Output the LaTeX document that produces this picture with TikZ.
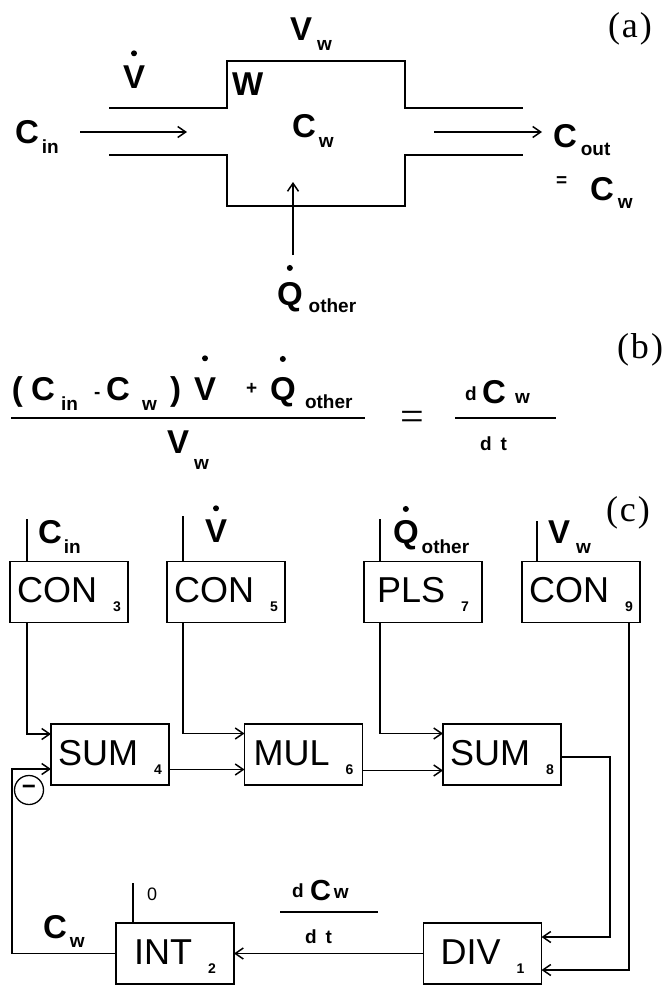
\documentclass[tikz,border=0pt]{standalone}
\usepackage{fontspec}
\usepackage{graphicx}
\setmainfont{Liberation Sans}
\newfontfamily\serifb{Liberation Serif}
\usetikzlibrary{arrows.meta,calc}
\newcommand\bxt[2]{\rule{0pt}{30.5pt}#1\kern16pt\raisebox{-9pt}{\fontsize{14}{14}\selectfont\bfseries #2}}
\begin{document}
\begin{tikzpicture}[x=1pt,y=-1pt,
  every node/.style={inner sep=0pt,outer sep=0pt},
  lab/.style={anchor=base west,font=\fontsize{33}{33}\selectfont\bfseries},
  sublab/.style={anchor=base west,font=\fontsize{19}{19}\selectfont\bfseries},
  tag/.style={anchor=base,font=\serifb\fontsize{36}{36}\selectfont},
  blk/.style={draw,line width=1.4pt,minimum width=118pt,minimum height=61pt,font=\fontsize{36}{36}\selectfont},
  wire/.style={line width=1.5pt},
  arr/.style={wire,-{Straight Barb[length=8pt,width=11pt]}},
  bar/.style={line width=2.2pt}]
\useasboundingbox (0,0) rectangle (665,985);

% ---------------- (a)
\node[tag] (taga) at (630,37) {(\kern2pt a\kern2pt)};
\draw[wire] (109,108) -- (227,108) -- (227,61) -- (405,61) -- (405,108) -- (523,108);
\draw[wire] (109,155) -- (227,155) -- (227,206) -- (405,206) -- (405,155) -- (523,155);
\node[lab] (aCin) at (15,143) {C};
\node[sublab] (aCinS) at ($(aCin.base east)+(3,10)$) {in};
\coordinate (aInA) at (80,132);
\coordinate (aInB) at (187,132);
\draw[arr] (aInA) -- (aInB);
\node[lab] (aV) at (123,88) {V};
\fill ($(aV.north)+(0,-12)$) circle (3pt);
\node[lab] (aVw) at (290,40) {V};
\node[sublab] (aVwS) at ($(aVw.base east)+(5,10)$) {w};
\node[lab] (aW) at (232,95) {W};
\node[lab] (aCw) at (292,137) {C};
\node[sublab] (aCwS) at ($(aCw.base east)+(3,10)$) {w};
\coordinate (aOutA) at (434,132);
\coordinate (aOutB) at (542,132);
\draw[arr] (aOutA) -- (aOutB);
\node[lab] (aCo) at (553,147) {C};
\node[sublab] (aCoS) at ($(aCo.base east)+(4,8)$) {out};
\node[sublab] (aEq) at (556,186) {=};
\node[lab] (aCw2) at (590,200) {C};
\node[sublab] (aCw2S) at ($(aCw2.base east)+(4,8)$) {w};
\coordinate (aQA) at (293,255);
\coordinate (aQB) at (293,182);
\draw[arr] (aQA) -- (aQB);
\node[lab] (aQ) at (277,305) {Q};
\fill ($(aQ.north)+(0,-14)$) circle (3pt);
\node[sublab] (aQS) at ($(aQ.base east)+(6,7)$) {other};

% ---------------- (b)
\node[tag] (tagb) at (640,358) {(\kern2pt b\kern2pt)};
\node[lab] (bP1) at (12,400) {(};
\node[lab] (bC1) at (31,400) {C};
\node[sublab] (bC1S) at (61,410) {in};
\node[sublab] (bMin) at (94,398) {-};
\node[lab] (bC2) at (106,400) {C};
\node[sublab] (bC2S) at (142,410) {w};
\node[lab] (bP2) at (170,400) {)};
\node[lab] (bV) at (194,400) {V};
\fill ($(bV.north)+(0,-19)$) circle (3pt);
\node[sublab] (bPl) at (246,394) {+};
\node[lab] (bQ) at (270,400) {Q};
\fill ($(bQ.north)+(0,-18)$) circle (3pt);
\node[sublab] (bQS) at (305,408) {other};
\draw[bar] (11,418) -- (365,418);
\node[lab] (bVw) at (167,453) {V};
\node[sublab] (bVwS) at (194,469) {w};
\node[font=\serifb\fontsize{42}{42}\selectfont,anchor=base] (bEq) at (412,430) {=};
\node[sublab] (bd1) at (465,400) {d};
\node[lab] (bC3) at (482,403) {C};
\node[sublab] (bC3S) at (515,403) {w};
\draw[bar] (455,418) -- (556,418);
\node[sublab] (bdt) at (480,450) {d\kern9pt t};

% ---------------- (c)
\node[tag] (tagc) at (628,521) {(\kern2pt c\kern2pt)};
\node[blk] (con3) at (69,592) {\bxt{CON}{3}};
\node[blk] (con5) at (226,592) {\bxt{CON}{5}};
\node[blk] (pls7) at (423,592) {\bxt{PLS}{7}};
\node[blk] (con9) at (581,592) {\bxt{CON}{9}};
\node[blk] (sum4) at (110,754.5) {\bxt{SUM}{4}};
\node[blk] (mul6) at (303.5,754.5) {\bxt{MUL}{6}};
\node[blk] (sum8) at (502,754.5) {\bxt{SUM}{8}};
\node[blk] (int2) at (175,953.5) {\bxt{INT}{2}};
\node[blk] (div1) at (482.5,953.5) {\bxt{DIV}{1}};

\draw[wire] ($(con3.north)+(-42,0)$) -- ++(0,-43);
\draw[wire] ($(con5.north)+(-43,0)$) -- ++(0,-46);
\draw[wire] ($(pls7.north)+(-43,0)$) -- ++(0,-43);
\draw[wire] ($(con9.north)+(-44,0)$) -- ++(0,-41);
\draw[wire] ($(int2.north)+(-42,0)$) -- ++(0,-40);

\draw[arr] ($(con3.south)+(-42,0)$) |- ($(sum4.west)+(0,-20.5)$);
\draw[arr] ($(con5.south)+(-43,0)$) |- ($(mul6.west)+(0,-21)$);
\draw[arr] ($(pls7.south)+(-43,0)$) |- ($(sum8.west)+(0,-21)$);
\draw[arr] ($(sum4.east)+(0,15)$) -- ($(mul6.west)+(0,15)$);
\draw[arr] ($(mul6.east)+(0,16)$) -- ($(sum8.west)+(0,16)$);
\draw[arr] ($(sum8.east)+(0,2.5)$) -- ++(49,0) |- ($(div1.east)+(0,-16.5)$);
\draw[arr] ($(con9.south)+(48,0)$) |- ($(div1.east)+(0,16.5)$);
\draw[arr] (div1.west) -- (int2.east);
\draw[arr] (int2.west) -- ++(-104,0) |- ($(sum4.west)+(0,14.5)$);

\node[draw,circle,line width=1.3pt,minimum size=29pt,font=\fontsize{24}{24}\selectfont\bfseries] (neg) at (29,790) {−};

\node[lab] (cCin) at (38,543) {C};
\node[sublab] (cCinS) at ($(cCin.base east)+(2,10)$) {in};
\node[lab] (cV) at (205,542) {V};
\fill ($(cV.north)+(0,-11)$) circle (3pt);
\node[lab] (cQ) at (393,543) {Q};
\fill ($(cQ.north)+(0,-11)$) circle (3pt);
\node[sublab] (cQS) at ($(cQ.base east)+(3,10)$) {other};
\node[lab] (cVw) at (548,543) {V};
\node[sublab] (cVwS) at ($(cVw.base east)+(6,10)$) {w};
\node[font=\fontsize{18}{18}\selectfont,anchor=base west] (zero) at (147,900) {0};
\node[lab] (cCw) at (43,938) {C};
\node[sublab] (cCwS) at ($(cCw.base east)+(3,9)$) {w};
\node[sublab] (cd1) at (292,897) {d};
\node[lab,font=\fontsize{29}{29}\selectfont\bfseries] (cC) at (310,900) {C};
\node[sublab] (cCS) at ($(cC.base east)+(3,-2)$) {w};
\draw[bar] (280,912) -- (378,912);
\node[sublab] (cdt) at (305,943) {d\kern9pt t};
\end{tikzpicture}
\end{document}
